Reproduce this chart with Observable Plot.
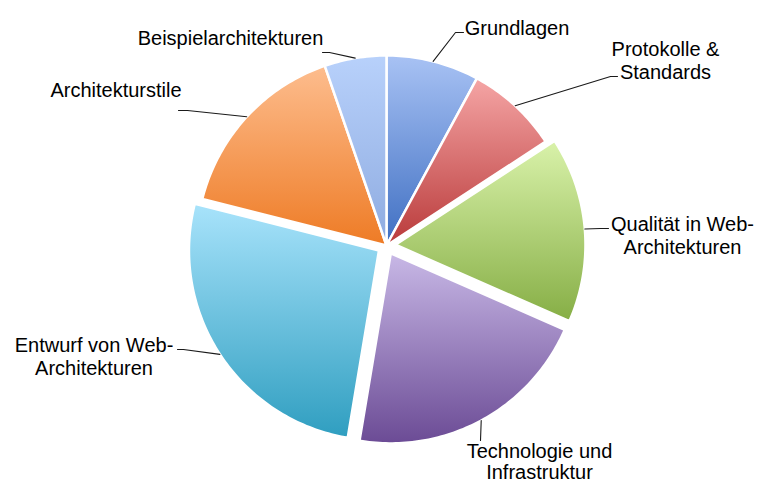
<!DOCTYPE html>
<html>
<head>
<meta charset="utf-8">
<script src="https://cdn.jsdelivr.net/npm/d3@7"></script>
<script src="https://cdn.jsdelivr.net/npm/@observablehq/plot@0.6"></script>
<style>
  html, body { margin: 0; padding: 0; background: #fff; }
</style>
</head>
<body>
<div id="chart"></div>
<script>
// ---- data ----
const categories = [
  "Grundlagen",
  "Protokolle &\nStandards",
  "Qualität in Web-\nArchitekturen",
  "Technologie und\nInfrastruktur",
  "Entwurf von Web-\nArchitekturen",
  "Architekturstile",
  "Beispielarchitekturen"
];
const values = [3, 3, 6, 8, 10, 6, 2];

// ---- style / layout (kept apart from data) ----
const gradTop    = ["#a8c2f4", "#f5a5a5", "#d9f2aa", "#c8b8e6", "#a8e3fb", "#fdbd8e", "#b8d1fb"];
const gradBottom = ["#3f6fc2", "#b93a3a", "#86ae45", "#6b4b95", "#2f9ec0", "#ee7b25", "#8eabe0"];
const exploded   = [0, 0, 1, 1, 1, 0, 0];
// label layout: text centre x, first baseline y, line height (em), leader tail points
const labelX        = [516.5, 665, 682, 539, 93.5, 115.5, 230];
const labelBaseline = [32, 53, 228, 457, 349, 94, 42];
const labelLineH    = [1.15, 1.15, 1.15, 1.05, 1.15, 1.15, 1.15];
const leaderTail    = [
  [[463, 32], [455, 32]],
  [[617, 76], [610, 76]],
  [[608, 228], [600, 228]],
  [[480, 440]],
  [[177, 349], [183, 349]],
  [[178, 110], [187, 110]],
  [[322, 52], [329, 52]]
];
const W = 759, H = 483;
const CX = 386, CY = 245, R = 190, EXPLODE = 9, FONT = 20;

// ---- geometry from data ----
const arcs = d3.pie().sort(null).startAngle(0).endAngle(2 * Math.PI)(values);
const slices = arcs.map((a, i) => {
  const mid = (a.startAngle + a.endAngle) / 2;
  const cx = CX + exploded[i] * EXPLODE * Math.sin(mid);
  const cy = CY - exploded[i] * EXPLODE * Math.cos(mid);
  const n = Math.max(4, Math.ceil((a.endAngle - a.startAngle) / (Math.PI / 180)));
  const pts = [{x: cx, y: cy}];
  for (let k = 0; k <= n; k++) {
    const t = a.startAngle + (a.endAngle - a.startAngle) * k / n;
    pts.push({x: cx + R * Math.sin(t), y: cy - R * Math.cos(t)});
  }
  pts.push({x: cx, y: cy});
  const edge = {x: cx + R * Math.sin(mid), y: cy - R * Math.cos(mid)};
  return {i, name: categories[i], pts, edge};
});

const leaders = slices.map(s => {
  const p = leaderTail[s.i].map(([x, y]) => ({x, y}));
  p.push(s.edge);
  return p;
});

const marks = [];
slices.forEach(s => {
  marks.push(Plot.line(s.pts, {
    x: "x", y: "y",
    fill: `url(#grad${s.i})`,
    stroke: "white", strokeWidth: 2.5, strokeLinejoin: "round", curve: "linear"
  }));
});
leaders.forEach(l => {
  marks.push(Plot.line(l, {x: "x", y: "y", stroke: "#1a1a1a", strokeWidth: 1.1}));
});
categories.forEach((c, i) => {
  marks.push(Plot.text([{text: c, x: labelX[i], y: labelBaseline[i] - 0.71 * FONT}], {
    x: "x", y: "y", text: "text",
    textAnchor: "middle", lineAnchor: "top", lineHeight: labelLineH[i],
    fontSize: FONT, fill: "#000"
  }));
});

const svg = Plot.plot({
  width: W, height: H,
  margin: 0,
  x: {domain: [0, W], range: [0, W], axis: null},
  y: {domain: [0, H], range: [0, H], axis: null},
  style: {fontFamily: "'Liberation Sans', Arial, sans-serif", background: "#fff", overflow: "visible"},
  marks
});

const defs = d3.select(svg).insert("defs", ":first-child");
gradTop.forEach((c, i) => {
  const g = defs.append("linearGradient")
    .attr("id", `grad${i}`)
    .attr("x1", 0).attr("y1", 0).attr("x2", 0).attr("y2", 1);
  g.append("stop").attr("offset", "0%").attr("stop-color", c);
  g.append("stop").attr("offset", "100%").attr("stop-color", gradBottom[i]);
});

document.getElementById("chart").appendChild(svg);
</script>
</body>
</html>
